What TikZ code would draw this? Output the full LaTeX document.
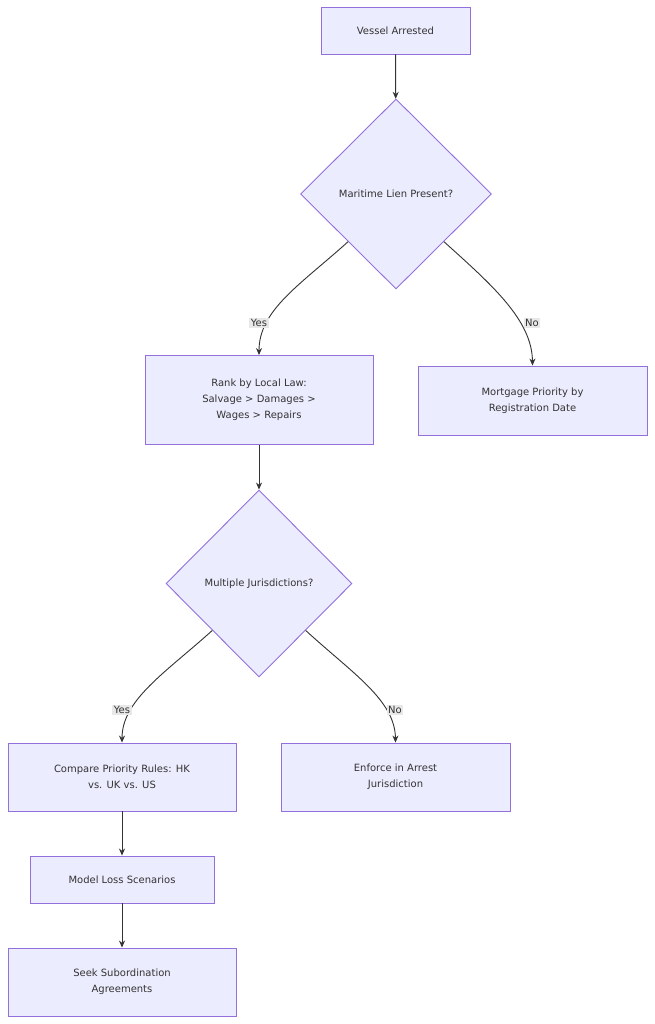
\documentclass[tikz,border=0pt]{standalone}
\usepackage{fontspec}
\setmainfont{DejaVu Sans}
\usetikzlibrary{shapes.geometric,arrows.meta}
\definecolor{nfill}{HTML}{ECECFF}
\definecolor{nline}{HTML}{9370DB}
\definecolor{eline}{HTML}{333333}
\definecolor{lblbg}{HTML}{E8E8E8}
\begin{document}
\begin{tikzpicture}[x=1pt,y=-1pt,
  box/.style={draw=nline,fill=nfill,line width=0.9pt,align=center,font=\fontsize{10}{16}\selectfont,text=eline,inner sep=0},
  dia/.style={draw=nline,fill=nfill,line width=0.9pt,diamond,align=center,font=\fontsize{10}{16}\selectfont,text=eline,inner sep=0},
  arr/.style={draw=eline,line width=0.9pt,-{Stealth[length=7pt,width=6pt]}},
  lbl/.style={fill=lblbg,font=\fontsize{10}{12}\selectfont,text=eline,inner sep=1.5pt}]
\useasboundingbox (0,0) rectangle (655,1024);
\fill[white] (0,0) rectangle (655,1024);
\node[box,minimum width=149,minimum height=47] (va) at (395.5,30.5) {Vessel Arrested};
\node[dia,minimum width=191,minimum height=190] (d1) at (396,194) {Maritime Lien Present?};
\node[box,minimum width=228,minimum height=89] (rank) at (259,400) {Rank by Local Law:\\Salvage > Damages >\\Wages > Repairs};
\node[box,minimum width=229,minimum height=69] (mort) at (532.5,400.5) {Mortgage Priority by\\Registration Date};
\node[dia,minimum width=186,minimum height=187] (d2) at (259,583.5) {Multiple Jurisdictions?};
\node[box,minimum width=228,minimum height=68] (cmp) at (122,777) {Compare Priority Rules: HK\\vs. UK vs. US};
\node[box,minimum width=229,minimum height=68] (enf) at (395.5,777) {Enforce in Arrest\\Jurisdiction};
\node[box,minimum width=184,minimum height=47] (mod) at (122,879.5) {Model Loss Scenarios};
\node[box,minimum width=228,minimum height=68] (seek) at (122,982) {Seek Subordination\\Agreements};
\draw[arr] (va) -- (d1);
\draw[arr] (d1.south west) .. controls (300,285) and (259,310) .. (rank.north);
\draw[arr] (d1.south east) .. controls (492,285) and (532,320) .. (mort.north);
\draw[arr] (rank) -- (d2);
\draw[arr] (d2.south west) .. controls (165,673) and (122,700) .. (cmp.north);
\draw[arr] (d2.south east) .. controls (352,673) and (395,700) .. (enf.north);
\draw[arr] (cmp) -- (mod);
\draw[arr] (mod) -- (seek);
\node[lbl] (y1) at (259,323) {Yes};
\node[lbl] (n1) at (532,323) {No};
\node[lbl] (y2) at (122,710) {Yes};
\node[lbl] (n2) at (395,710) {No};
\end{tikzpicture}
\end{document}
